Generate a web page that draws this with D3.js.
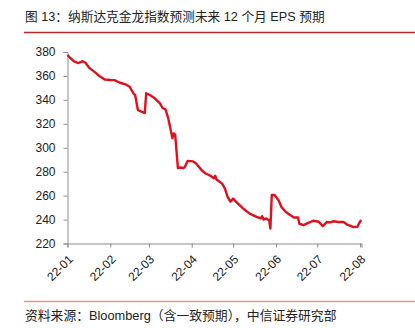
<!DOCTYPE html>
<html>
<head>
<meta charset="utf-8">
<script src="https://cdn.jsdelivr.net/npm/d3@7"></script>
<style>
  html, body { margin: 0; padding: 0; background: #fff; }
  svg { display: block; }
  text { font-family: "Liberation Sans", Arial, "Noto Sans CJK SC", sans-serif; }
</style>
</head>
<body>
<svg id="chart" width="415" height="328"></svg>
<script>
// Nasdaq Golden Dragon index: forward 12-month EPS consensus
const title = "图 13：纳斯达克金龙指数预测未来 12 个月 EPS 预期";
const source = "资料来源：Bloomberg（含一致预期），中信证券研究部";

const dates = [
  "2022-01-01","2022-01-03","2022-01-06","2022-01-09","2022-01-12","2022-01-14","2022-01-17",
  "2022-01-21","2022-01-24","2022-01-28","2022-02-01","2022-02-04","2022-02-08","2022-02-12",
  "2022-02-15","2022-02-17","2022-02-18","2022-02-19","2022-02-21","2022-02-24","2022-02-26",
  "2022-02-27","2022-03-01","2022-03-05","2022-03-09","2022-03-11","2022-03-13","2022-03-15",
  "2022-03-17","2022-03-18","2022-03-19","2022-03-20","2022-03-22","2022-03-24","2022-03-26",
  "2022-03-27","2022-03-29","2022-04-02","2022-04-04","2022-04-08","2022-04-11","2022-04-14",
  "2022-04-17","2022-04-18","2022-04-19","2022-04-23","2022-04-25","2022-04-27","2022-04-29",
  "2022-05-01","2022-05-03","2022-05-08","2022-05-13","2022-05-18","2022-05-21","2022-05-22",
  "2022-05-23","2022-05-25","2022-05-26","2022-05-27","2022-05-28","2022-05-29","2022-05-31",
  "2022-06-03","2022-06-05","2022-06-08","2022-06-11","2022-06-14","2022-06-17","2022-06-18",
  "2022-06-21","2022-06-24","2022-06-28","2022-07-02","2022-07-05","2022-07-08","2022-07-10",
  "2022-07-13","2022-07-16","2022-07-20","2022-07-23","2022-07-27","2022-07-30","2022-08-01",
  "2022-08-02"
];
const eps = [
  377.5, 375, 372, 370.8, 372.3, 371, 366.5,
  363, 360, 357, 356.6, 356.5, 354.3, 353,
  351, 347, 345, 344, 331.5, 330, 329,
  345.5, 344.5, 341.5, 337, 333, 332, 324.5,
  313.5, 308, 312, 311, 283, 283.5, 283,
  284, 289, 288.6, 287, 281.5, 278.5, 277,
  274.5, 276.5, 273.5, 270, 266, 259, 255,
  257.5, 255, 249.5, 245, 242.2, 241, 242.8,
  240, 241, 240, 239.7, 232.5, 260.5, 260.5,
  256, 250.5, 246.5, 244, 241.7, 241.7, 236.5,
  235.3, 237, 239, 238.2, 234.5, 238, 237.7,
  238.6, 238, 238, 235.5, 233.8, 234, 238.5,
  239.5
];
const yTicks = [220, 240, 260, 280, 300, 320, 340, 360, 380];
const xTickDates = ["2022-01-01","2022-02-01","2022-03-01","2022-04-01","2022-05-01","2022-06-01","2022-07-01","2022-08-01"];

const parse = d3.timeParse("%Y-%m-%d");
const data = dates.map((d, i) => ({ date: parse(d), value: eps[i] }));

const svg = d3.select("#chart");
const margin = { left: 67.5, right: 361.5, top: 52, bottom: 243.5 };

const x = d3.scaleTime()
  .domain([parse("2022-01-01"), parse("2022-08-02")])
  .range([margin.left, margin.right]);
const y = d3.scaleLinear()
  .domain([220, 380])
  .range([margin.bottom, margin.top]);

// header and footer
svg.append("text")
  .attr("x", 25).attr("y", 20.5)
  .attr("font-size", 12.7).attr("fill", "#222")
  .text(title);
svg.append("line")
  .attr("x1", 24).attr("x2", 415).attr("y1", 32.5).attr("y2", 32.5)
  .attr("stroke", "#b3262a").attr("stroke-width", 1.5);
svg.append("line")
  .attr("x1", 24).attr("x2", 415).attr("y1", 301.5).attr("y2", 301.5)
  .attr("stroke", "#e89294").attr("stroke-width", 1.5);
svg.append("text")
  .attr("x", 25).attr("y", 319.5)
  .attr("font-size", 12.8).attr("fill", "#222")
  .text(source);

// axes
const yAxis = svg.append("g")
  .attr("transform", `translate(${margin.left},0)`)
  .call(d3.axisLeft(y).tickValues(yTicks).tickSize(4).tickPadding(8));
const xAxis = svg.append("g")
  .attr("transform", `translate(0,${margin.bottom})`)
  .call(d3.axisBottom(x).tickValues(xTickDates.map(parse))
    .tickFormat(d3.timeFormat("%y-%m")).tickSize(4).tickPadding(4));

[yAxis, xAxis].forEach(g => {
  g.select(".domain").attr("stroke", "#8c8c8c");
  g.selectAll(".tick line").attr("stroke", "#8c8c8c");
  g.selectAll("text").attr("font-size", 12).attr("fill", "#222")
    .attr("font-family", "\"Liberation Sans\", Arial, sans-serif");
});
xAxis.selectAll(".tick text")
  .attr("text-anchor", "end")
  .attr("dy", "0.35em")
  .attr("transform", "translate(-3,8) rotate(-45)");

// series line
svg.append("path")
  .datum(data)
  .attr("fill", "none")
  .attr("stroke", "#e0101e")
  .attr("stroke-width", 2.4)
  .attr("stroke-linejoin", "round")
  .attr("d", d3.line().x(d => x(d.date)).y(d => y(d.value)));
</script>
</body>
</html>
